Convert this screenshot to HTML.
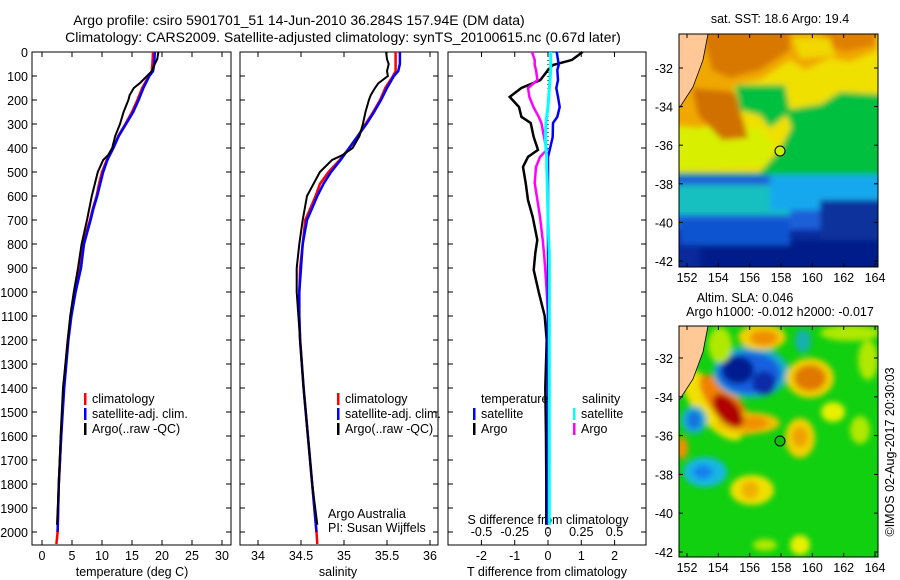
<!DOCTYPE html>
<html><head><meta charset="utf-8"><style>
html,body{margin:0;padding:0;background:#fff;}
svg{display:block;font-family:"Liberation Sans",sans-serif;}
</style></head><body>
<svg id="fig" width="900" height="580" viewBox="0 0 900 580" xmlns="http://www.w3.org/2000/svg">
<defs>
<filter id="bl" x="-20%" y="-20%" width="140%" height="140%"><feGaussianBlur stdDeviation="4"/></filter>
<filter id="bl2" x="-30%" y="-30%" width="160%" height="160%"><feGaussianBlur stdDeviation="3"/></filter>
<clipPath id="cTop"><rect x="679" y="34" width="199" height="233"/></clipPath>
<clipPath id="cBot"><rect x="679" y="326" width="199" height="231"/></clipPath>
</defs>
<g font-size="14" text-anchor="middle">
<text x="299" y="25">Argo profile: csiro 5901701_51 14-Jun-2010 36.284S 157.94E (DM data)</text>
<text x="343" y="42">Climatology: CARS2009. Satellite-adjusted climatology: synTS_20100615.nc (0.67d later)</text>
</g>
<g id="p1"></g>
<g id="p2"></g>
<g id="p3"></g>

<!-- SST map -->
<g>
<text x="780" y="23" font-size="12.5" text-anchor="middle">sat. SST: 18.6 Argo: 19.4</text>
<g clip-path="url(#cTop)">
<rect x="679" y="34" width="199" height="233" fill="#0a2a9c"/>
<g filter="url(#bl2)">
<rect x="670" y="160" width="220" height="70" fill="#1a60d8"/>
<rect x="670" y="185" width="120" height="30" fill="#18c0c0"/>
<rect x="770" y="150" width="120" height="60" fill="#12a8ee"/>
<rect x="670" y="25" width="220" height="150" fill="#00c040"/>
<path d="M670 25 H890 V95 L840 92 L800 118 L790 130 L780 150 L760 172 L670 172 Z" fill="#f0e000"/>
<path d="M670 128 L760 128 L775 145 L765 165 L670 170 Z" fill="#d8f000"/>
<path d="M670 25 H878 V50 L850 62 L830 58 L805 70 L790 60 L760 80 L735 85 L722 120 L700 128 L670 125 Z" fill="#f0a800"/>
<path d="M700 25 H790 V50 L760 70 L730 78 L712 70 Z" fill="#d87800"/>
<path d="M820 25 H875 V45 L845 52 L825 45 Z" fill="#e08000"/>
<path d="M792 38 L830 38 L835 56 L800 58 Z" fill="#f0d800"/>
<path d="M692 88 L735 92 L748 138 L722 140 L698 115 Z" fill="#d07000"/>
<path d="M735 85 L785 85 L790 112 L770 128 L760 115 L740 110 Z" fill="#00c040"/>
<path d="M785 110 L878 95 L878 140 L800 150 Z" fill="#00c040"/>
<rect x="700" y="240" width="190" height="40" fill="#001e8a"/>
<rect x="820" y="200" width="70" height="40" fill="#08309c"/>
<rect x="680" y="220" width="110" height="25" fill="#0a54d0"/>
</g>
</g>
<path d="M679 34 H708 L703 60 L693 87 L680 107 L679 107 Z" fill="#ffc896" stroke="#000" stroke-width="0.8"/>
<circle cx="780" cy="151" r="5" fill="#c8f000" stroke="#000" stroke-width="1"/>
<rect x="679" y="34" width="199" height="233" fill="none" stroke="#000" stroke-width="1"/>
<g id="mapTopAxes"></g>
</g>

<!-- SLA map -->
<g>
<text x="745" y="302" font-size="12.5" text-anchor="middle">Altim. SLA: 0.046</text>
<text x="780" y="316" font-size="12.5" text-anchor="middle">Argo h1000: -0.012 h2000: -0.017</text>
<g clip-path="url(#cBot)">
<rect x="679" y="326" width="199" height="231" fill="#10d010"/>
<g filter="url(#bl2)">
<ellipse cx="712" cy="405" rx="44" ry="17" transform="rotate(50 712 405)" fill="#f0e000"/>
<ellipse cx="726" cy="405" rx="38" ry="14" transform="rotate(50 726 405)" fill="#f08000"/>
<ellipse cx="748" cy="423" rx="32" ry="11" fill="#f0c000"/>
<ellipse cx="752" cy="423" rx="16" ry="7" fill="#f09000"/>
<ellipse cx="728" cy="411" rx="20" ry="11" transform="rotate(50 728 411)" fill="#b00000"/>
<ellipse cx="751" cy="372" rx="38" ry="26" fill="#18b0c8"/>
<ellipse cx="749" cy="373" rx="32" ry="21" fill="#1860e0"/>
<ellipse cx="738" cy="370" rx="16" ry="14" fill="#001c90"/>
<ellipse cx="764" cy="383" rx="12" ry="12" fill="#0a2aa8"/>
<ellipse cx="762" cy="337" rx="24" ry="13" fill="#f0d000"/>
<ellipse cx="764" cy="338" rx="14" ry="8" fill="#f09000"/>
<ellipse cx="810" cy="378" rx="24" ry="20" fill="#f0d000"/>
<ellipse cx="810" cy="378" rx="16" ry="13" fill="#e07800"/>
<ellipse cx="803" cy="341" rx="8" ry="12" fill="#18b0b0"/>
<ellipse cx="694" cy="420" rx="13" ry="14" fill="#18b0d0"/>
<ellipse cx="694" cy="420" rx="7" ry="9" fill="#1870e0"/>
<ellipse cx="705" cy="472" rx="22" ry="15" fill="#18b8e0"/>
<ellipse cx="703" cy="472" rx="10" ry="7" fill="#1880f0"/>
<ellipse cx="800" cy="438" rx="15" ry="20" fill="#f0d000"/>
<ellipse cx="800" cy="437" rx="8" ry="10" fill="#f0a000"/>
<ellipse cx="752" cy="490" rx="22" ry="15" fill="#f0e000"/>
<ellipse cx="750" cy="490" rx="9" ry="9" fill="#f0b000"/>
<ellipse cx="682" cy="448" rx="6" ry="11" fill="#f09000"/>
<ellipse cx="833" cy="412" rx="12" ry="10" fill="#e8f000"/>
<ellipse cx="860" cy="430" rx="10" ry="14" fill="#b0e800"/>
<ellipse cx="800" cy="545" rx="10" ry="10" fill="#e8f000"/>
<ellipse cx="765" cy="545" rx="12" ry="6" fill="#b0e800"/>
<ellipse cx="868" cy="360" rx="10" ry="20" fill="#b0e800"/>
<ellipse cx="850" cy="333" rx="30" ry="8" fill="#b0e800"/>
<ellipse cx="720" cy="345" rx="12" ry="18" fill="#b0e800"/>
</g>
</g>
<path d="M679 326 H708 L703 352 L693 379 L680 399 L679 399 Z" fill="#ffc896" stroke="#000" stroke-width="0.8"/>
<circle cx="780" cy="441" r="5" fill="#10c010" stroke="#000" stroke-width="1"/>
<rect x="679" y="326" width="199" height="231" fill="none" stroke="#000" stroke-width="1"/>
<g id="mapBotAxes"></g>
</g>
<text x="0" y="0" font-size="12.5" text-anchor="middle" transform="translate(894 452) rotate(-90)">©IMOS 02-Aug-2017 20:30:03</text>
</svg>
<script>
// ---- data ----
const depths = [0,50,80,100,150,200,250,300,350,400,450,500,550,600,650,700,800,900,1000,1100,1200,1400,1600,1800,2000,2050];
const tClim = [18.5,18.4,18.3,17.8,16.7,15.9,15.0,13.9,12.7,11.9,10.8,10.0,9.5,9.1,8.5,8.0,6.8,6.3,5.5,4.8,4.3,3.6,3.2,2.8,2.6,2.4];
const tSat = [18.8,18.7,18.5,17.9,16.9,16.1,15.2,14.0,12.8,11.9,10.9,10.2,9.7,9.2,8.6,8.1,7.0,6.5,5.6,4.9,4.4,3.7,3.2,2.8,2.6,2.6];
const sClim = [35.60,35.60,35.60,35.57,35.48,35.42,35.34,35.25,35.16,35.06,34.95,34.82,34.72,34.67,34.61,34.55,34.52,34.49,34.48,34.48,34.49,34.53,34.58,34.63,34.68,34.69];
const sSat = [35.65,35.65,35.63,35.58,35.50,35.43,35.35,35.26,35.16,35.06,34.96,34.85,34.76,34.69,34.63,34.57,34.52,34.50,34.48,34.48,34.49,34.53,34.58,34.63,34.68,34.68];
const argoDepths = [0,30,50,80,100,130,150,180,200,250,300,350,400,430,450,500,600,700,800,900,1000,1100,1200,1400,1600,1800,1970];
const tArgo = [19.4,19.2,18.8,18.3,17.5,16.3,15.3,14.6,14.4,13.6,13.0,12.2,11.7,11.0,10.2,9.3,8.3,7.5,6.6,6.0,5.3,4.7,4.3,3.5,3.1,2.8,2.5];
const sArgo = [35.49,35.50,35.52,35.50,35.51,35.40,35.36,35.31,35.29,35.25,35.22,35.18,35.10,34.98,34.86,34.72,34.57,34.52,34.48,34.45,34.45,34.47,34.49,34.53,34.58,34.63,34.69];
const diffDepths = [0,33,54,75,117,150,187,229,270,296,354,408,437,479,546,617,687,783,838,908,1000,1100,1200,1400,1600,1800,1970];
const dTArgo = [1.04,0.72,0.15,0,-0.23,-0.8,-1.15,-0.87,-0.8,-0.52,-0.43,-0.3,-0.6,-0.75,-0.67,-0.6,-0.46,-0.32,-0.38,-0.43,-0.28,-0.1,-0.04,-0.08,-0.06,-0.05,-0.05];
const dTSat = [0.26,0.3,0.32,0.28,0.3,0.25,0.3,0.35,0.28,0.15,0.14,0.05,0,0,0,0,0,0,0,0,0,0,0,0,0,0,0];
const dSArgo = [-0.12,-0.1,-0.1,-0.09,-0.08,-0.15,-0.14,-0.11,-0.07,-0.05,-0.03,-0.01,-0.06,-0.09,-0.1,-0.08,-0.06,-0.04,-0.03,-0.02,-0.01,0,0,0,0,0,0];
const dSSat = [0.02,0.02,0.02,0.02,0.015,0.01,0.005,0,-0.01,-0.015,-0.02,-0.015,-0.01,-0.01,-0.005,-0.003,0,0.005,0.01,0.01,0.01,0.01,0.01,0.01,0.01,0.01,0.01];
const depthTicks = [0,100,200,300,400,500,600,700,800,900,1000,1100,1200,1300,1400,1500,1600,1700,1800,1900,2000];
const tTicks = [0,5,10,15,20,25,30];
const sTicks = [34,34.5,35,35.5,36];
const sTickLabels = ["34","34.5","35","35.5","36"];
const dTTicks = [-2,-1,0,1,2];
const dSTicks = [-0.5,-0.25,0,0.25,0.5];
const dSTickLabels = ["-0.5","-0.25","0","0.25","0.5"];
const lonTicks = [152,154,156,158,160,162,164];
const latTicks = [-32,-34,-36,-38,-40,-42];

// ---- scales ----
const NS = "http://www.w3.org/2000/svg";
const TOP = 52, BOT = 545;
const yD = d => TOP + d * 0.24;
const xT = t => 42 + t * 6;
const xS = s => 258 + (s - 34) * 86;
const xDT = v => 548 + v * 33.3;
const xDS = v => 548 + v * 133;
const mx = lon => 687 + (lon - 152) * 15.67;
const myTop = lat => 68 + (-32 - lat) * 19.3;
const myBot = lat => 358 + (-32 - lat) * 19.4;

function mk(tag, attrs, parent) {
  const e = document.createElementNS(NS, tag);
  for (const k in attrs) e.setAttribute(k, attrs[k]);
  parent.appendChild(e);
  return e;
}
function txt(parent, x, y, s, anchor, size) {
  const e = mk('text', {x: x, y: y, 'font-size': size || 12.5, 'text-anchor': anchor || 'middle'}, parent);
  e.textContent = s;
  return e;
}
function line(parent, xs, ys, color, w, name) {
  const pts = xs.map((x, i) => x.toFixed(1) + ',' + ys[i].toFixed(1)).join(' ');
  const p = mk('polyline', {points: pts, fill: 'none', stroke: color, 'stroke-width': w, 'stroke-linejoin': 'miter'}, parent);
  
  
  return p;
}
function frame(parent, x0, x1) {
  mk('rect', {x: x0, y: TOP, width: x1 - x0, height: BOT - TOP, fill: 'none', stroke: '#000', 'stroke-width': 1}, parent);
  depthTicks.forEach(d => {
    mk('line', {x1: x0, x2: x0 + 5, y1: yD(d), y2: yD(d), stroke: '#000'}, parent);
    mk('line', {x1: x1 - 5, x2: x1, y1: yD(d), y2: yD(d), stroke: '#000'}, parent);
  });
}
function xticks(parent, xs, labels, y0, y1, labelY) {
  xs.forEach((x, i) => {
    mk('line', {x1: x, x2: x, y1: y0, y2: y1, stroke: '#000'}, parent);
    if (labels) txt(parent, x, labelY, labels[i]);
  });
}
function legend(parent, x, y, items) {
  items.forEach((it, i) => {
    const yy = y + i * 15;
    const r = mk('rect', {x: x, y: yy - 10, width: 2.5, height: 12, fill: it[1]}, parent);
    
    
    const t = txt(parent, x + 8, yy, it[0], 'start');
    
    
  });
}

// ---- panel 1: temperature ----
const p1 = document.getElementById('p1');
frame(p1, 32, 231);
depthTicks.forEach(d => txt(p1, 28, yD(d) + 5, String(d), 'end'));
xticks(p1, tTicks.map(xT), null, TOP, TOP + 5);
xticks(p1, tTicks.map(xT), tTicks.map(String), BOT, BOT - 5, 560);
let t1 = txt(p1, 132, 576, 'temperature (deg C)');


line(p1, tClim.map(xT), depths.map(yD), '#f00', 2.5, 'temp-climatology-line');
line(p1, tSat.slice(0,25).map(xT), depths.slice(0,25).map(yD), '#00f', 2.5, 'temp-satellite-line');
line(p1, tArgo.map(xT), argoDepths.map(yD), '#000', 2, 'temp-argo-line');
legend(p1, 84, 403, [['climatology', '#f00'], ['satellite-adj. clim.', '#00f'], ['Argo(..raw -QC)', '#000']]);

// ---- panel 2: salinity ----
const p2 = document.getElementById('p2');
frame(p2, 240, 438);
xticks(p2, sTicks.map(xS), null, TOP, TOP + 5);
xticks(p2, sTicks.map(xS), sTickLabels, BOT, BOT - 5, 560);
let t2 = txt(p2, 338, 576, 'salinity');


line(p2, sClim.map(xS), depths.map(yD), '#f00', 2.5, 'sal-climatology-line');
line(p2, sSat.slice(0,25).map(xS), depths.slice(0,25).map(yD), '#00f', 2.5, 'sal-satellite-line');
line(p2, sArgo.map(xS), argoDepths.map(yD), '#000', 2, 'sal-argo-line');
legend(p2, 337, 403, [['climatology', '#f00'], ['satellite-adj. clim.', '#00f'], ['Argo(..raw -QC)', '#000']]);
txt(p2, 328, 518, 'Argo Australia', 'start');
txt(p2, 328, 532, 'PI: Susan Wijffels', 'start');

// ---- panel 3: differences ----
const p3 = document.getElementById('p3');
frame(p3, 448, 646);
xticks(p3, dSTicks.map(xDS), null, TOP, TOP + 5);
xticks(p3, dTTicks.map(xDT), dTTicks.map(String), BOT, BOT - 5, 560);
dSTicks.forEach((v, i) => txt(p3, xDS(v), 536, dSTickLabels[i]));
txt(p3, 548, 524, 'S difference from climatology');
let t3 = txt(p3, 547, 576, 'T difference from climatology');


mk('line', {x1: xDT(0), x2: xDT(0), y1: TOP, y2: BOT, stroke: '#000', 'stroke-dasharray': '1,3'}, p3);
line(p3, dTArgo.map(xDT), diffDepths.map(yD), '#000', 2.5, 'tdiff-argo-line');
line(p3, dSArgo.map(xDS), diffDepths.map(yD), '#f0f', 2.5, 'sdiff-argo-line');
line(p3, dTSat.map(xDT), diffDepths.map(yD), '#00f', 2.5, 'tdiff-satellite-line');
line(p3, dSSat.map(xDS), diffDepths.map(yD), '#0ff', 3, 'sdiff-satellite-line');
txt(p3, 481, 403, 'temperature', 'start');
txt(p3, 582, 403, 'salinity', 'start');
legend(p3, 473, 418, [['satellite', '#00f'], ['Argo', '#000']]);
legend(p3, 573, 418, [['satellite', '#0ff'], ['Argo', '#f0f']]);

// ---- map axes ----
function mapAxes(id, y0, y1, my) {
  const g = document.getElementById(id);
  lonTicks.forEach(l => {
    mk('line', {x1: mx(l), x2: mx(l), y1: y0, y2: y0 + 4, stroke: '#000'}, g);
    mk('line', {x1: mx(l), x2: mx(l), y1: y1 - 4, y2: y1, stroke: '#000'}, g);
    txt(g, mx(l), y1 + 15, String(l));
  });
  latTicks.forEach(l => {
    mk('line', {x1: 679, x2: 683, y1: my(l), y2: my(l), stroke: '#000'}, g);
    mk('line', {x1: 874, x2: 878, y1: my(l), y2: my(l), stroke: '#000'}, g);
    txt(g, 673, my(l) + 5, String(l), 'end');
  });
}
mapAxes('mapTopAxes', 34, 267, myTop);
mapAxes('mapBotAxes', 326, 557, myBot);
</script>
</body></html>
